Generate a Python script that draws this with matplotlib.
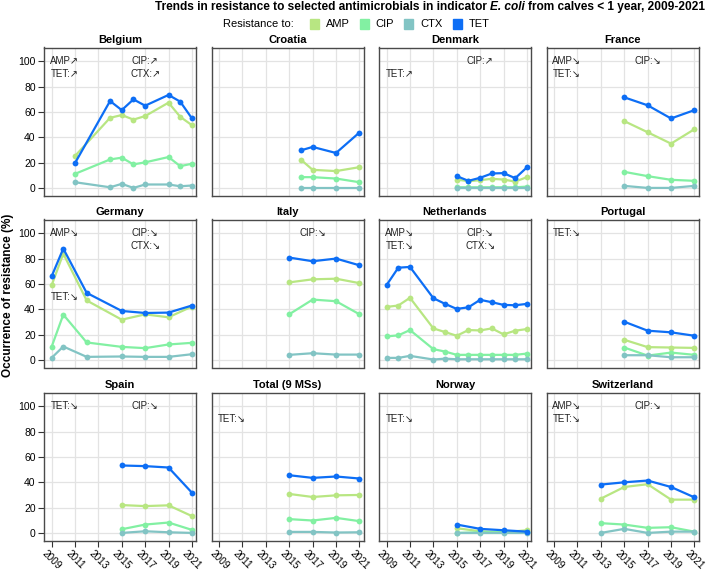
import matplotlib
matplotlib.use("Agg")
import matplotlib.pyplot as plt
from matplotlib import font_manager
from matplotlib.patches import Rectangle

# ---------------- data ----------------
countries = ["Belgium", "Croatia", "Denmark", "France",
             "Germany", "Italy", "Netherlands", "Portugal",
             "Spain", "Total (9 MSs)", "Norway", "Switzerland"]
antimicrobials = ["AMP", "CIP", "CTX", "TET"]
tick_years = [2009, 2011, 2013, 2015, 2017, 2019, 2021]
y_ticks = [0, 20, 40, 60, 80, 100]

belgium_years = [2011, 2014, 2015, 2016, 2017, 2019, 2020, 2021]
belgium_amp = [25.2, 55.4, 57.6, 54.0, 56.8, 67.4, 56.2, 49.6]
belgium_cip = [11.1, 22.5, 23.9, 18.6, 20.2, 24.4, 17.2, 19.1]
belgium_ctx = [4.5, 0.5, 3.2, 0.0, 2.7, 2.7, 1.3, 1.9]
belgium_tet = [19.6, 68.7, 61.5, 70.0, 65.0, 73.5, 68.2, 55.0]

croatia_years = [2016, 2017, 2019, 2021]
croatia_amp = [22.3, 14.3, 13.3, 16.4]
croatia_cip = [8.5, 8.5, 7.4, 4.5]
croatia_ctx = [0.0, 0.0, 0.0, 0.0]
croatia_tet = [29.7, 32.4, 27.6, 43.8]

denmark_years = [2015, 2016, 2017, 2018, 2019, 2020, 2021]
denmark_amp = [6.6, 5.3, 6.1, 7.2, 6.6, 5.0, 8.5]
denmark_cip = [0.5, 0.5, 0.5, 0.5, 0.5, 0.5, 1.0]
denmark_ctx = [0.0, 0.0, 0.0, 0.0, 0.0, 0.0, 0.0]
denmark_tet = [9.3, 5.6, 8.0, 11.4, 11.7, 7.7, 16.2]

france_years = [2015, 2017, 2019, 2021]
france_amp = [52.8, 44.0, 35.0, 46.4]
france_cip = [12.7, 9.3, 6.4, 5.6]
france_ctx = [1.6, 0.0, 0.0, 1.6]
france_tet = [71.6, 65.3, 54.9, 61.5]

germany_years = [2009, 2010, 2012, 2015, 2017, 2019, 2021]
germany_amp = [58.9, 84.0, 47.0, 31.8, 36.0, 33.7, 42.2]
germany_cip = [10.3, 35.8, 13.8, 10.3, 9.3, 12.2, 13.5]
germany_ctx = [1.6, 10.6, 2.4, 2.7, 2.4, 2.4, 4.5]
germany_tet = [66.0, 88.0, 53.0, 38.7, 37.1, 37.4, 43.0]

italy_years = [2015, 2017, 2019, 2021]
italy_amp = [61.3, 63.7, 64.2, 60.7]
italy_cip = [36.1, 47.7, 46.4, 36.1]
italy_ctx = [4.0, 5.3, 4.2, 4.2]
italy_tet = [80.9, 78.0, 80.1, 74.8]

netherlands_years = [2009, 2010, 2011, 2013, 2014, 2015, 2016, 2017, 2018, 2019, 2020, 2021]
netherlands_amp = [41.9, 43.0, 49.1, 24.9, 22.0, 19.1, 23.6, 23.3, 24.9, 20.2, 23.1, 24.4]
netherlands_cip = [18.6, 19.4, 23.6, 8.5, 6.6, 4.0, 4.0, 4.0, 4.0, 4.0, 4.0, 5.0]
netherlands_ctx = [1.6, 1.6, 3.2, 0.3, 1.0, 0.5, 0.5, 0.5, 0.5, 0.5, 0.5, 0.5]
netherlands_tet = [59.2, 72.9, 73.5, 48.8, 44.3, 40.3, 41.6, 47.5, 45.6, 43.5, 43.2, 44.3]

portugal_years = [2015, 2017, 2019, 2021]
portugal_amp = [15.9, 10.1, 9.8, 9.5]
portugal_cip = [9.8, 3.4, 5.8, 4.0]
portugal_ctx = [3.7, 3.7, 2.1, 2.1]
portugal_tet = [30.2, 23.1, 21.8, 19.1]

spain_years = [2015, 2017, 2019, 2021]
spain_amp = [22.0, 21.2, 21.8, 13.3]
spain_cip = [2.9, 6.6, 8.2, 2.4]
spain_ctx = [0.0, 1.3, 0.5, 0.0]
spain_tet = [53.3, 52.8, 51.7, 31.8]

total_years = [2015, 2017, 2019, 2021]
total_amp = [30.8, 28.4, 29.7, 30.0]
total_cip = [10.9, 9.8, 11.9, 9.3]
total_ctx = [0.8, 0.8, 0.3, 0.5]
total_tet = [45.6, 43.5, 44.6, 43.0]

norway_years = [2015, 2017, 2019, 2021]
norway_amp = [3.7, 1.3, 0.5, 2.1]
norway_cip = [0.0, 0.5, 0.5, 0.5]
norway_ctx = [0.0, 0.0, 0.0, 0.0]
norway_tet = [6.6, 3.2, 2.1, 1.0]

switzerland_years = [2013, 2015, 2017, 2019, 2021]
switzerland_amp = [27.1, 36.3, 38.5, 26.3, 26.3]
switzerland_cip = [7.7, 6.6, 4.0, 4.5, 1.0]
switzerland_ctx = [0.0, 3.2, 0.0, 1.0, 1.0]
switzerland_tet = [38.2, 40.0, 41.4, 36.3, 28.1]

# trend labels (text per country)
trend_labels = {
    "Belgium": ["AMP\u2197", "TET:\u2197", "CIP:\u2197", "CTX:\u2197"],
    "Croatia": [],
    "Denmark": ["TET:\u2197", "CIP:\u2197"],
    "France": ["AMP\u2198", "TET:\u2198", "CIP:\u2198"],
    "Germany": ["AMP\u2198", "TET:\u2198", "CIP:\u2198", "CTX:\u2198"],
    "Italy": ["CIP:\u2198"],
    "Netherlands": ["AMP\u2198", "TET:\u2198", "CIP:\u2198", "CTX:\u2198"],
    "Portugal": ["TET:\u2198"],
    "Spain": ["TET:\u2198", "CIP:\u2198"],
    "Total (9 MSs)": ["TET:\u2198"],
    "Norway": ["TET:\u2198"],
    "Switzerland": ["AMP\u2198", "TET:\u2198", "CIP:\u2198"],
}

panel_data = {
    "Belgium": (belgium_years, belgium_amp, belgium_cip, belgium_ctx, belgium_tet),
    "Croatia": (croatia_years, croatia_amp, croatia_cip, croatia_ctx, croatia_tet),
    "Denmark": (denmark_years, denmark_amp, denmark_cip, denmark_ctx, denmark_tet),
    "France": (france_years, france_amp, france_cip, france_ctx, france_tet),
    "Germany": (germany_years, germany_amp, germany_cip, germany_ctx, germany_tet),
    "Italy": (italy_years, italy_amp, italy_cip, italy_ctx, italy_tet),
    "Netherlands": (netherlands_years, netherlands_amp, netherlands_cip, netherlands_ctx, netherlands_tet),
    "Portugal": (portugal_years, portugal_amp, portugal_cip, portugal_ctx, portugal_tet),
    "Spain": (spain_years, spain_amp, spain_cip, spain_ctx, spain_tet),
    "Total (9 MSs)": (total_years, total_amp, total_cip, total_ctx, total_tet),
    "Norway": (norway_years, norway_amp, norway_cip, norway_ctx, norway_tet),
    "Switzerland": (switzerland_years, switzerland_amp, switzerland_cip, switzerland_ctx, switzerland_tet),
}

# ---------------- style ----------------
colors = {"AMP": "#b8e682", "CIP": "#82f0a2", "CTX": "#82c4c4", "TET": "#0d6ef5"}
draw_order = ["AMP", "CIP", "CTX", "TET"]

names = {f.name for f in font_manager.fontManager.ttflist}
base_font = "Liberation Sans" if "Liberation Sans" in names else "DejaVu Sans"
plt.rcParams["font.family"] = [base_font, "DejaVu Sans"]

W, H = 709, 571
fig = plt.figure(figsize=(W / 100, H / 100), dpi=100)

col_left = [44, 211.5, 379, 546.5]
panel_w = 152
row_top = [47.5, 219.5, 392.5]
panel_h = 148

# annotation slot positions (x in years, y in %)
slot_pos = {"AMP": (2010.1, 100), "TET": (2010.1, 90), "CIP": (2017.0, 100), "CTX": (2017.0, 90)}
special_pos = {("Germany", "TET"): (2010.1, 50), ("Portugal", "TET"): (2010.1, 100),
               ("Spain", "TET"): (2010.1, 100)}

for i, c in enumerate(countries):
    r, k = divmod(i, 4)
    ax = fig.add_axes([col_left[k] / W, 1 - (row_top[r] + panel_h) / H, panel_w / W, panel_h / H])
    ax.set_xlim(2008.35, 2021.35)
    ax.set_ylim(-6, 111)
    ax.set_xticks(tick_years)
    ax.set_yticks(y_ticks)
    ax.grid(True, color="#e3e3e3", linewidth=0.9)
    ax.set_axisbelow(True)
    for s in ax.spines.values():
        s.set_color("#4a4a4a")
        s.set_linewidth(1.0)
    ax.tick_params(axis="both", length=4, width=0.8, color="#333333", labelsize=7.5, pad=2)
    if k == 0:
        ax.set_yticklabels([str(v) for v in y_ticks])
    else:
        ax.tick_params(axis="y", length=0)
        ax.set_yticklabels([])
    if r == 2:
        ax.set_xticklabels([str(v) for v in tick_years], rotation=-45, ha="center",
                           fontsize=7.2)
        ax.tick_params(axis="x", pad=1.5)
    else:
        ax.tick_params(axis="x", length=0)
        ax.set_xticklabels([])
    ax.set_title(c, fontsize=8, fontweight="bold", pad=3)

    yrs, amp, cip, ctx, tet = panel_data[c]
    series = {"AMP": amp, "CIP": cip, "CTX": ctx, "TET": tet}
    for name in draw_order:
        ax.plot(yrs, series[name], color=colors[name], lw=1.6, marker="o", ms=4.2,
                markeredgewidth=0, clip_on=False, zorder=3)

    for lab in trend_labels[c]:
        key = lab[:3]
        x, y = special_pos.get((c, key), slot_pos[key])
        ax.text(x, y, lab, ha="center", va="center", fontsize=7,
                family=[base_font, "DejaVu Sans"], color="#222222")

# y-axis label
fig.text(8 / W, 1 - 295 / H, "Occurrence of resistance (%)", rotation=90, ha="center",
         va="center", fontsize=8.5, fontweight="bold")

# title, built from pieces so that "E. coli" is italic; fitted to span x 150..705 px
renderer = fig.canvas.get_renderer()
title_parts = [("from calves < 1 year, 2009-2021", "normal"), ("E. coli", "italic"),
               ("Trends in resistance to selected antimicrobials in indicator", "normal")]
ty = 1 - 7 / H
target_w = 705 - 150
fs = 9
gap = 3
for attempt in range(2):
    tmp = []
    total = 0
    for txt, style in title_parts:
        t = fig.text(0, ty, txt, fontsize=fs, fontweight="bold", fontstyle=style)
        total += t.get_window_extent(renderer=renderer).width
        tmp.append(t)
    for t in tmp:
        t.remove()
    total += gap * 2
    fs = fs * target_w / total
fs = max(min(fs, 10), 8)
x_right = 705
for txt, style in title_parts:
    t = fig.text(x_right / W, ty, txt, ha="right", va="center", fontsize=fs,
                 fontweight="bold", fontstyle=style)
    bb = t.get_window_extent(renderer=renderer)
    x_right -= bb.width + gap

# legend
ly = 1 - 24 / H
fig.text(294 / W, ly, "Resistance to:", ha="right", va="center", fontsize=8)
lx = 310
for name in antimicrobials:
    fig.patches.append(Rectangle((lx / W, ly - 4.5 / H), 9 / W, 9 / H, transform=fig.transFigure,
                                 color=colors[name]))
    t = fig.text((lx + 16) / W, ly, name, ha="left", va="center", fontsize=8)
    lx = lx + 16 + t.get_window_extent(renderer=renderer).width + 10

fig.savefig("out.png", dpi=100)
